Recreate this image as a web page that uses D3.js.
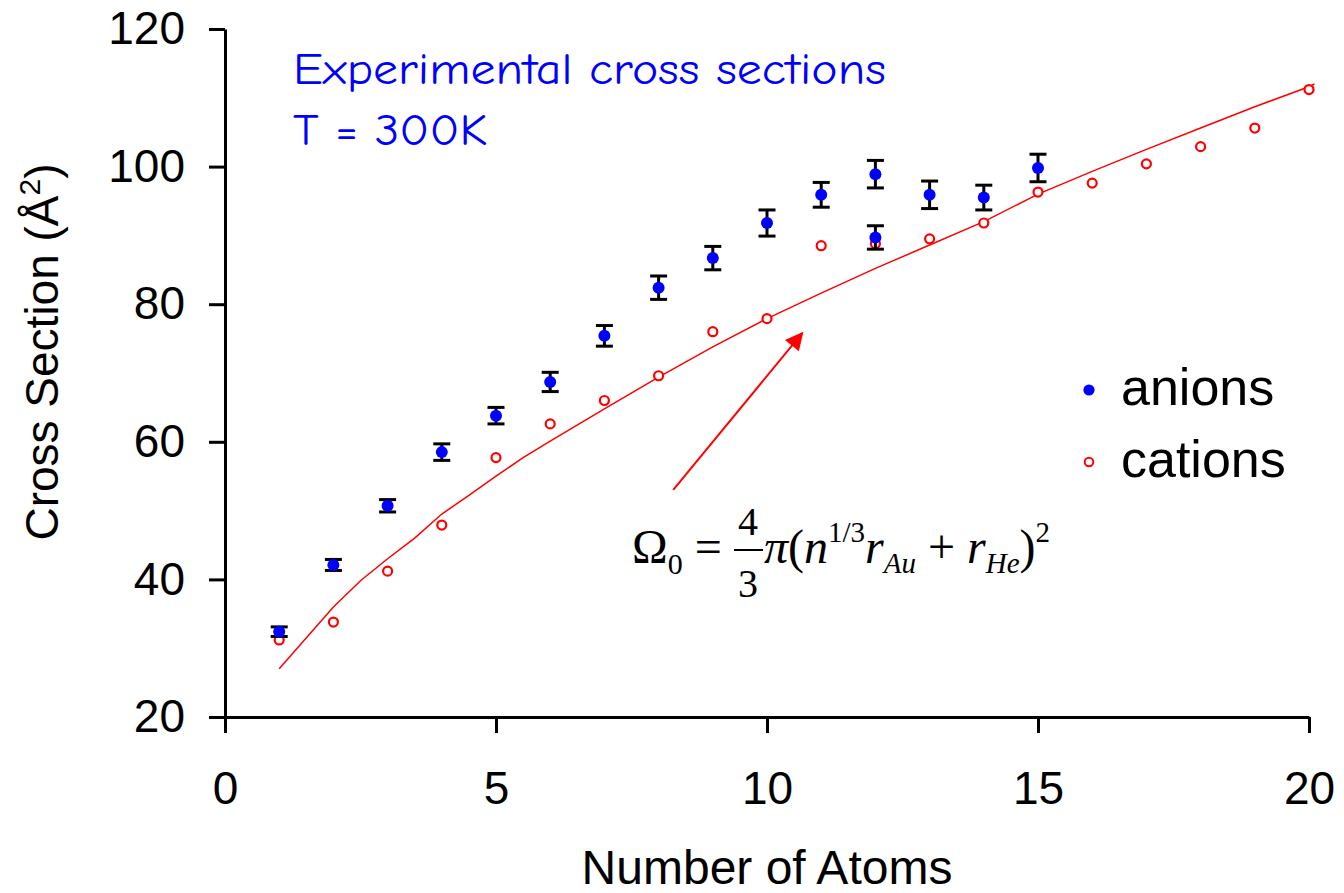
<!DOCTYPE html>
<html>
<head>
<meta charset="utf-8">
<script src="https://cdn.jsdelivr.net/npm/d3@7"></script>
<style>
  body { margin: 0; background: #fff; }
  svg { display: block; }
</style>
</head>
<body>
<svg id="canvas" width="1344" height="893"></svg>
<script>
// measured cross sections (anions have error bars)
let anionN   = [1, 2, 3, 4, 5, 6, 7, 8, 9, 10, 11, 12, 12, 13, 14, 15];
let anionVal = [32.4, 42.1, 50.7, 58.5, 63.8, 68.7, 75.4, 82.4, 86.7, 91.8, 95.9, 98.9, 89.7, 95.9, 95.5, 99.8];
let anionErr = [0.7, 0.8, 0.9, 1.2, 1.2, 1.4, 1.5, 1.7, 1.7, 1.9, 1.8, 2.0, 1.7, 2.0, 1.8, 2.0];

let cationN   = [1, 2, 3, 4, 5, 6, 7, 8, 9, 10, 11, 12, 13, 14, 15, 16, 17, 18, 19, 20];
let cationVal = [31.2, 33.8, 41.2, 47.9, 57.7, 62.6, 66.0, 69.6, 76.0, 77.9, 88.5, 88.8, 89.5, 91.8, 96.3, 97.6, 100.4, 102.9, 105.6, 111.2];

// model curve (red line)
let modelN   = [1, 2, 2.5, 3, 3.5, 4, 4.5, 5, 5.5, 6, 7, 8, 9, 10, 11, 12, 13, 14, 15, 16, 17, 18, 19, 20, 20.1];
let modelVal = [27.0, 36.0, 39.8, 43.0, 46.0, 49.5, 52.2, 55.0, 57.7, 60.1, 64.8, 69.4, 73.8, 77.9, 81.6, 85.2, 88.6, 92.0, 96.0, 99.3, 102.5, 105.6, 108.7, 111.6, 112.0];

let xTicks = [0, 5, 10, 15, 20];
let yTicks = [20, 40, 60, 80, 100, 120];

// arrow start / end in data units
let arrowFrom = [8.27, 53.0];
let arrowTo   = [10.65, 75.8];

let canvas = d3.select('#canvas');

let x = d3.scaleLinear().domain([0, 20]).range([225, 1309]);
let y = d3.scaleLinear().domain([20, 120]).range([717, 29]);

let sans = 'Arial, "Liberation Sans", Helvetica, sans-serif';

// axes
let xAxis = canvas.append('g')
    .attr('transform', 'translate(0,' + y(20) + ')')
    .call(d3.axisBottom(x).tickValues(xTicks).tickSize(16).tickSizeOuter(0).tickPadding(38));

let yAxis = canvas.append('g')
    .attr('transform', 'translate(' + x(0) + ',0)')
    .call(d3.axisLeft(y).tickValues(yTicks).tickSize(16).tickSizeOuter(0).tickPadding(24));

[xAxis, yAxis].forEach((ax) => {
    ax.selectAll('path, line').attr('stroke', '#000').attr('stroke-width', 3);
    ax.selectAll('text')
        .attr('fill', '#000')
        .style('font-family', sans)
        .style('font-size', '46px');
});

// axis titles
canvas.append('text')
    .attr('x', 767)
    .attr('y', 884)
    .attr('text-anchor', 'middle')
    .style('font-family', sans)
    .style('font-size', '48px')
    .text('Number of Atoms');

let yTitle = canvas.append('text')
    .attr('transform', 'translate(58,352) rotate(-90)')
    .attr('text-anchor', 'middle')
    .style('font-family', sans)
    .style('font-size', '46px');
yTitle.append('tspan').text('Cross Section (Å');
yTitle.append('tspan').attr('dy', -18).style('font-size', '30px').text('2');
yTitle.append('tspan').attr('dy', 18).text(')');

// model line
let line = d3.line()
    .x((d, i) => x(modelN[i]))
    .y((d) => y(d));

canvas.append('path')
    .datum(modelVal)
    .attr('d', line)
    .attr('fill', 'none')
    .attr('stroke', '#ff0000')
    .attr('stroke-width', 1.5);

// cations: open red circles
canvas.append('g').selectAll('circle')
    .data(cationVal)
    .enter()
    .append('circle')
    .attr('cx', (d, i) => x(cationN[i]))
    .attr('cy', (d) => y(d))
    .attr('r', 4.5)
    .attr('fill', '#fff')
    .attr('stroke', '#ff0000')
    .attr('stroke-width', 2.2);

// anion error bars
let bars = canvas.append('g')
    .attr('stroke', '#000')
    .attr('stroke-width', 3);

anionVal.forEach((v, i) => {
    let cx = x(anionN[i]);
    let top = y(v + anionErr[i]);
    let bot = y(v - anionErr[i]);
    bars.append('line').attr('x1', cx).attr('x2', cx).attr('y1', top).attr('y2', bot);
    bars.append('line').attr('x1', cx - 8.5).attr('x2', cx + 8.5).attr('y1', top).attr('y2', top);
    bars.append('line').attr('x1', cx - 8.5).attr('x2', cx + 8.5).attr('y1', bot).attr('y2', bot);
});

// anions: filled blue dots
canvas.append('g').selectAll('circle')
    .data(anionVal)
    .enter()
    .append('circle')
    .attr('cx', (d, i) => x(anionN[i]))
    .attr('cy', (d) => y(d))
    .attr('r', 6)
    .attr('fill', '#0000ff');

// arrow pointing at the curve
canvas.append('defs').append('marker')
    .attr('id', 'head')
    .attr('viewBox', '0 0 10 10')
    .attr('refX', 9)
    .attr('refY', 5)
    .attr('markerUnits', 'userSpaceOnUse')
    .attr('markerWidth', 24)
    .attr('markerHeight', 18)
    .attr('orient', 'auto')
    .append('path')
    .attr('d', 'M0,0 L10,5 L0,10 Z')
    .attr('fill', '#ff0000');

canvas.append('line')
    .attr('x1', x(arrowFrom[0]))
    .attr('y1', y(arrowFrom[1]))
    .attr('x2', x(arrowTo[0]))
    .attr('y2', y(arrowTo[1]))
    .attr('stroke', '#ff0000')
    .attr('stroke-width', 2)
    .attr('marker-end', 'url(#head)');

// legend
canvas.append('circle').attr('cx', 1089).attr('cy', 390).attr('r', 5.6).attr('fill', '#0000ff');
canvas.append('circle').attr('cx', 1089).attr('cy', 462).attr('r', 4.3)
    .attr('fill', '#fff').attr('stroke', '#ff0000').attr('stroke-width', 2);

canvas.append('text').attr('x', 1121).attr('y', 405)
    .style('font-family', sans).style('font-size', '52px').text('anions');
canvas.append('text').attr('x', 1121).attr('y', 477)
    .style('font-family', sans).style('font-size', '52px').text('cations');

// annotation
let comic = '"Comic Sans MS", "Comic Neue", "DejaVu Sans", sans-serif';
canvas.append('text').attr('x', 293).attr('y', 84)
    .attr('fill', '#0000ff')
    .attr('textLength', 593).attr('lengthAdjust', 'spacingAndGlyphs')
    .style('font-family', comic).style('font-size', '44px')
    .text('Experimental cross sections');
canvas.append('text').attr('x', 293).attr('y', 145)
    .attr('fill', '#0000ff')
    .attr('textLength', 194).attr('lengthAdjust', 'spacingAndGlyphs')
    .style('font-family', comic).style('font-size', '44px')
    .text('T = 300K');

// formula
let serif = '"Times New Roman", "Liberation Serif", serif';
let f = canvas.append('g').style('font-family', serif).attr('fill', '#000');

let left = f.append('text').attr('x', 632).attr('y', 563).style('font-size', '48px');
left.append('tspan').text('Ω');
left.append('tspan').attr('dy', 11).style('font-size', '30px').text('0');
left.append('tspan').attr('dy', -11).text(' = ');

f.append('text').attr('x', 748).attr('y', 535).attr('text-anchor', 'middle')
    .style('font-size', '40px').text('4');
f.append('line').attr('x1', 734).attr('x2', 763).attr('y1', 550).attr('y2', 550)
    .attr('stroke', '#000').attr('stroke-width', 2);
f.append('text').attr('x', 748).attr('y', 597).attr('text-anchor', 'middle')
    .style('font-size', '40px').text('3');

let right = f.append('text').attr('x', 764).attr('y', 563).style('font-size', '48px');
right.append('tspan').style('font-style', 'italic').text('π');
right.append('tspan').text('(');
right.append('tspan').style('font-style', 'italic').text('n');
right.append('tspan').attr('dy', -21).style('font-size', '29px').text('1/3');
right.append('tspan').attr('dy', 21).style('font-style', 'italic').text('r');
right.append('tspan').attr('dy', 10).style('font-size', '29px').style('font-style', 'italic').text('Au');
right.append('tspan').attr('dy', -10).text(' + ');
right.append('tspan').style('font-style', 'italic').text('r');
right.append('tspan').attr('dy', 10).style('font-size', '29px').style('font-style', 'italic').text('He');
right.append('tspan').attr('dy', -10).text(')');
right.append('tspan').attr('dy', -21).style('font-size', '29px').text('2');
</script>
</body>
</html>
